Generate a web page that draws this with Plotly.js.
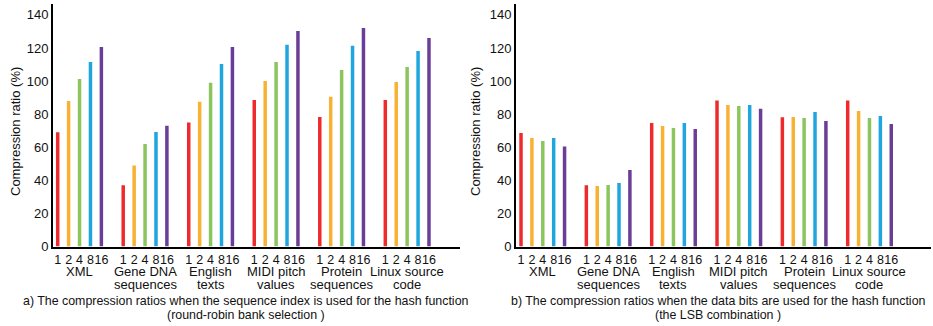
<!DOCTYPE html>
<html>
<head>
<meta charset="utf-8">
<script src="https://cdn.plot.ly/plotly-3.0.1.min.js"></script>
<style>html,body{margin:0;padding:0;background:#fff;}#chart{width:933px;height:326px;}</style>
</head>
<body>
<div id="chart"></div>
<script>
// ---- data ----
const categories = ["XML", "Gene DNA<br>sequences", "English<br>texts", "MIDI pitch<br>values", "Protein<br>sequences", "Linux source<br>code"];
const banks = ["1", "2", "4", "8", "16"];
// a) sequence index (round-robin bank selection), rows = banks, columns = categories
const seqIndex = [
  [69, 37, 75, 88.6, 78.3, 88.6],
  [88, 49, 87.5, 100, 90.5, 99.5],
  [101.3, 62, 99, 111.6, 106.7, 108.5],
  [111.6, 69.2, 110.4, 122, 121.3, 118.2],
  [120.6, 73, 120.6, 130.3, 132.1, 126.1]
];
// b) data bits (LSB combination)
const lsb = [
  [68.6, 37, 74.7, 88.2, 78.1, 88.2],
  [65.6, 36.6, 72.9, 85.6, 78.3, 81.9],
  [63.8, 37.2, 71.7, 85, 77.7, 77.7],
  [65.6, 38.4, 74.7, 85.6, 81.3, 78.9],
  [60.4, 46.3, 71.1, 83.2, 75.9, 74.1]
];
const yTitle = "Compression ratio (%)";
const captions = [
  "a) The compression ratios when the sequence index is used for the hash function<br>(round-robin bank selection )",
  "b) The compression ratios when the data bits are used for the hash function<br>(the LSB combination )"
];
const colors = ["#EE2A2C", "#F8B133", "#8CC55E", "#1FA6DF", "#6A3E98"];

// ---- build ----
const FONT = "Liberation Sans, Arial, Helvetica, sans-serif";
const period = banks.length + 1;
const pos = (g, i) => g * period + i;
const traces = [];
[seqIndex, lsb].forEach((data, p) => {
  banks.forEach((b, i) => {
    traces.push({
      type: "bar",
      x: categories.map((c, g) => pos(g, i)),
      y: data[i],
      width: 0.32,
      marker: {color: colors[i], line: {width: 0}},
      xaxis: p === 0 ? "x" : "x2",
      yaxis: p === 0 ? "y" : "y2",
      hoverinfo: "y"
    });
  });
});
const tickvals = [], ticktext = [];
categories.forEach((c, g) => banks.forEach((b, i) => { tickvals.push(pos(g, i)); ticktext.push(b); }));

const W = 933, H = 326;
const ydom = [(H - 246.5) / H, (H - 4) / H];
function xax(d, r) {
  return {domain: d, range: r, showline: true, linewidth: 2, linecolor: "#000", ticks: "",
    tickangle: 0, tickvals: tickvals, ticktext: ticktext, tickfont: {size: 12.5, color: "#111", family: FONT},
    showgrid: false, zeroline: false, fixedrange: true};
}
function yax(anchor) {
  return {domain: ydom, range: [0, 146.6], dtick: 20, showline: true, linewidth: 2, linecolor: "#000",
    ticks: "", showgrid: false, zeroline: false, anchor: anchor,
    tickfont: {size: 13, color: "#111", family: FONT}};
}
const annotations = [];
["x", "x2"].forEach(xr => {
  categories.forEach((c, g) => {
    c.split("<br>").forEach((line, k) => {
      annotations.push({xref: xr, yref: "paper", x: pos(g, (banks.length - 1) / 2), y: (H - 261.5 - 13.3 * k) / H,
        yanchor: "top", xanchor: "center", text: line, showarrow: false,
        font: {size: 13, color: "#111", family: FONT}});
    });
  });
});
[15, 475].forEach(px => {
  annotations.push({xref: "paper", yref: "paper", x: px / W, y: (H - 132) / H, textangle: -90,
    xanchor: "center", yanchor: "middle", text: yTitle, showarrow: false,
    font: {size: 13, color: "#111", family: FONT}});
});
const capX = [246 / W, 718 / W];
captions.forEach((c, p) => {
  c.split("<br>").forEach((line, k) => {
    annotations.push({xref: "paper", yref: "paper", x: capX[p], y: (H - 292 - 13.5 * k) / H,
      yanchor: "top", xanchor: "center", text: line, showarrow: false,
      font: {size: 12.4, color: "#111", family: FONT}});
  });
});

const layout = {
  width: W, height: H, margin: {l: 0, r: 0, t: 0, b: 0},
  paper_bgcolor: "#fff", plot_bgcolor: "#fff", showlegend: false, barmode: "overlay",
  font: {family: FONT, color: "#111"},
  xaxis: xax([53 / W, 460 / W], [-0.43, 36.84]),
  yaxis: yax("x"),
  xaxis2: xax([516 / W, 931 / W], [-0.46, 37.65]),
  yaxis2: yax("x2"),
  annotations: annotations
};
layout.xaxis.anchor = "y";
layout.xaxis2.anchor = "y2";
Plotly.newPlot("chart", traces, layout, {displayModeBar: false, staticPlot: true});
</script>
</body>
</html>
